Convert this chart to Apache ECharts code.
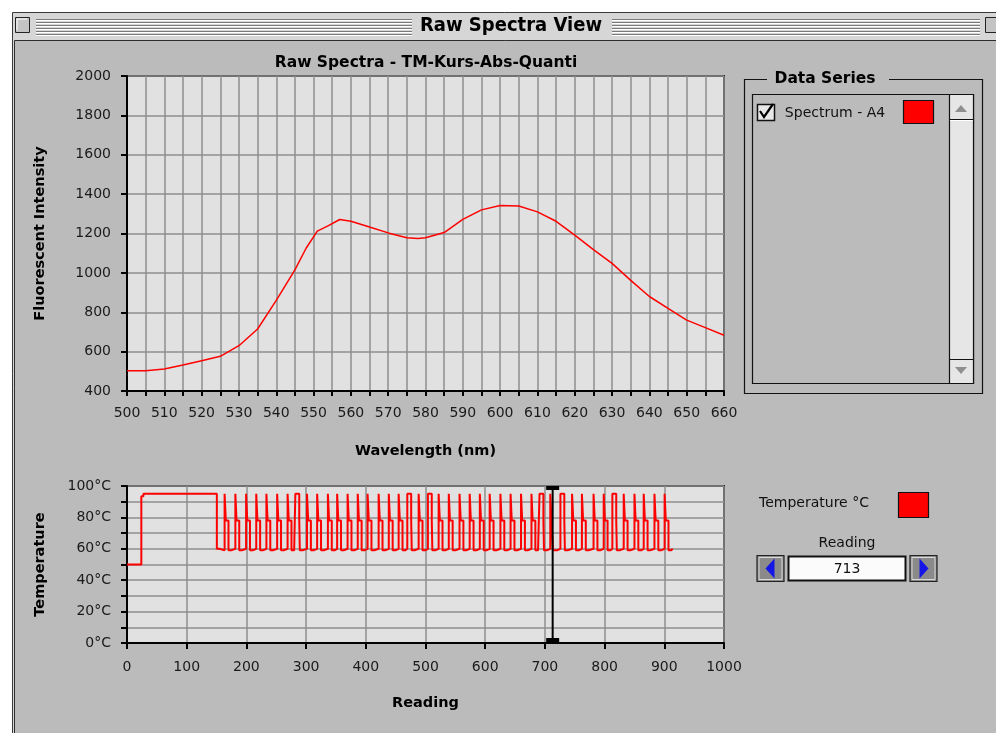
<!DOCTYPE html>
<html>
<head>
<meta charset="utf-8">
<title>Raw Spectra View</title>
<script src="https://cdn.jsdelivr.net/npm/echarts/dist/echarts.min.js"></script>
<style>
  html, body { margin: 0; padding: 0; background: #ffffff; }
  #chart { width: 996px; height: 733px; }
</style>
</head>
<body>
<div id="chart"></div>
<script>
// Raw spectrum of well A4: wavelength (nm) and fluorescent intensity
const wavelengths = [500, 505, 510, 515, 520, 525, 530, 535, 540, 545, 548, 551, 554, 557, 560,
  565, 570, 575, 578, 580, 585, 590, 595, 600, 605, 610, 615, 620, 625, 630, 635, 640, 645, 650, 655, 660];
const intensity = [503, 503, 512, 532, 554, 576, 630, 715, 860, 1015, 1125, 1212, 1240, 1271, 1262,
  1233, 1203, 1178, 1174, 1178, 1205, 1272, 1320, 1342, 1340, 1310, 1262, 1192, 1118, 1048, 962, 880, 820, 760, 722, 683];

// Block temperature log: [reading, °C] break points, each value held until the next reading
const temperatureSteps = [
  [0, 50], [24, 93.5], [27.5, 95], [66, 94], [67.5, 95], [79.5, 94], [81, 95], [116.5, 94], [118, 95],
  [136.5, 94], [138, 95], [150.5, 60], [155, 59],
  [163.5, 95], [165.5, 78], [170, 59], [174.5, 60],
  [181.5, 95], [183.5, 78], [188, 59], [192.5, 60],
  [199.5, 95], [201.5, 78], [206, 59], [210.5, 60],
  [216.5, 95], [218.5, 78], [223, 59], [227.5, 60],
  [233.5, 95], [235.5, 78], [240, 59], [244.5, 60],
  [251.5, 95], [253.5, 78], [258, 59], [262.5, 60],
  [269, 95], [271, 78], [275.5, 59], [280, 60],
  [282, 95], [288.5, 78], [289.5, 59], [294, 60],
  [301.5, 95], [303.5, 78], [308, 59], [312.5, 60],
  [318.5, 95], [320.5, 78], [325, 59], [329.5, 60],
  [336.5, 95], [338.5, 78], [343, 59], [347.5, 60],
  [352, 95], [354, 78], [358.5, 59], [363, 60],
  [369.5, 95], [371.5, 78], [376, 59], [380.5, 60],
  [386.5, 95], [388.5, 78], [393, 59], [397.5, 60],
  [403, 95], [405, 78], [409.5, 59], [414, 60],
  [421.5, 95], [423.5, 78], [428, 59], [432.5, 60],
  [438.5, 95], [440.5, 78], [445, 59], [449.5, 60],
  [455, 95], [457, 78], [461.5, 59], [466, 60],
  [469.5, 95], [476, 78], [477, 59], [481.5, 60],
  [488.5, 95], [490.5, 78], [495, 59], [499.5, 60],
  [504, 95], [510.5, 78], [511.5, 59], [516, 60],
  [522, 95], [524, 78], [528.5, 59], [533, 60],
  [539, 95], [541, 78], [545.5, 59], [550, 60],
  [557, 95], [559, 78], [563.5, 59], [568, 60],
  [574, 95], [576, 78], [580.5, 59], [585, 60],
  [591, 95], [593, 78], [597.5, 59], [602, 60],
  [607.5, 95], [609.5, 78], [614, 59], [618.5, 60],
  [625.5, 95], [627.5, 78], [632, 59], [636.5, 60],
  [642.5, 95], [644.5, 78], [649, 59], [653.5, 60],
  [660, 95], [662, 78], [666.5, 59], [671, 60],
  [677.5, 95], [679.5, 78], [684, 59], [688.5, 60],
  [691, 95], [697.5, 78], [698.5, 59], [703, 60],
  [709, 95], [711, 78], [713.5, 59], [720, 60],
  [726, 95], [732.5, 78], [733.5, 59], [738, 60],
  [745.5, 95], [747.5, 78], [752, 59], [756.5, 60],
  [762, 95], [764, 78], [768.5, 59], [773, 60],
  [781.5, 95], [783.5, 78], [788, 59], [792.5, 60],
  [798.5, 95], [800.5, 78], [805, 59], [809.5, 60],
  [813, 95], [819.5, 78], [820.5, 59], [825, 60],
  [832, 95], [834, 78], [838.5, 59], [843, 60],
  [850, 95], [852, 78], [856.5, 59], [861, 60],
  [865.5, 95], [867.5, 78], [872, 59], [876.5, 60],
  [883.5, 95], [885.5, 78], [890, 59], [894.5, 60],
  [900.5, 95], [902.5, 78], [907, 59], [911.5, 60],
  [914, 60]
];

// Reading currently selected with the cursor
const currentReading = 713;

const seriesName = 'Spectrum - A4';
const tempName = 'Temperature °C';

const SANS = "'DejaVu Sans', Verdana, sans-serif";
const RED = '#ff0000';
const GRID_LINE = { color: '#8e8e8e', width: 1.5 };
const AXIS_LINE = { color: '#000000', width: 2 };

const chart = echarts.init(document.getElementById('chart'), null, { renderer: 'canvas' });

function txt(text, x, y, font, opts) {
  return {
    type: 'text', z: 20,
    style: Object.assign({
      text: text, x: x, y: y, font: font, fill: '#111',
      textAlign: 'center', textVerticalAlign: 'middle', align: 'center', verticalAlign: 'middle'
    }, opts || {})
  };
}
function rect(x, y, w, h, fill, stroke, lw, z) {
  return { type: 'rect', z: z === undefined ? 10 : z, shape: { x: x, y: y, width: w, height: h },
    style: { fill: fill, stroke: stroke || null, lineWidth: lw || 1 } };
}
function line(x1, y1, x2, y2, color, lw, z) {
  return { type: 'line', z: z === undefined ? 10 : z, shape: { x1: x1, y1: y1, x2: x2, y2: y2 },
    style: { stroke: color, lineWidth: lw || 1 } };
}
function poly(points, fill, z) {
  return { type: 'polygon', z: z === undefined ? 11 : z, shape: { points: points }, style: { fill: fill } };
}

// Window chrome: frame, striped title bar, close/zoom boxes, content panel
const chrome = [];
chrome.push(rect(12.5, 12.5, 1000, 740, '#d6d6d6', '#3a3a3a', 1, -20));
for (let i = 0; i < 6; i++) {
  const y = 19.5 + i * 3;
  chrome.push(line(36, y, 412, y, '#7a7a7a', 1, -19));
  chrome.push(line(36, y + 1, 412, y + 1, '#ffffff', 1, -19));
  chrome.push(line(612, y, 980, y, '#7a7a7a', 1, -19));
  chrome.push(line(612, y + 1, 980, y + 1, '#ffffff', 1, -19));
}
chrome.push(rect(15.5, 17.5, 14, 15, '#c4c4c4', '#222', 1, -19));
chrome.push(line(17, 19, 27, 19, '#ffffff', 1, -18));
chrome.push(line(17, 19, 17, 30, '#ffffff', 1, -18));
chrome.push(rect(985.5, 17.5, 16, 15, '#c4c4c4', '#222', 1, -19));
chrome.push(txt('Raw Spectra View', 511, 26,
  "bold 20px 'DejaVu Sans Condensed', 'Liberation Sans Narrow', 'DejaVu Sans', sans-serif",
  { fill: '#000', z: -18 }));
chrome.push(rect(14.5, 40.5, 995, 710, '#bbbbbb', '#2e2e2e', 1, -17));

// Data Series group box
const panel = [];
panel.push(rect(744.5, 79.5, 238, 314, null, '#111', 1.2, 10));
panel.push(rect(767, 70, 122, 18, '#bbbbbb', null, 1, 11));
panel.push(txt('Data Series', 825, 79, "bold 15.5px 'DejaVu Sans', sans-serif", { fill: '#000' }));
panel.push(rect(752.5, 94.5, 221, 289, '#bbbbbb', '#111', 1.2, 11));
panel.push(rect(949.5, 94.5, 24, 289, '#e6e6e6', '#111', 1.2, 12));
panel.push(line(950, 119.5, 973, 119.5, '#111', 1, 13));
panel.push(line(950, 120.5, 973, 120.5, '#ffffff', 1, 13));
panel.push(line(950, 359.5, 973, 359.5, '#111', 1, 13));
panel.push(poly([[955, 112], [967, 112], [961, 105]], '#8f8f8f', 14));
panel.push(poly([[955, 367], [967, 367], [961, 374]], '#8f8f8f', 14));
// checkbox with tick
panel.push(rect(757.5, 104.5, 17, 16, '#e8e8e8', '#111', 1.5, 13));
panel.push({ type: 'polyline', z: 14, shape: { points: [[760, 111], [764, 117], [773, 104]] },
  style: { stroke: '#000', lineWidth: 2.2, fill: null } });
panel.push(txt(seriesName, 835, 113, "14px " + SANS, { fill: '#111' }));
panel.push(rect(903.5, 100.5, 30, 23, RED, '#111', 1.2, 13));

// Temperature legend and reading selector
panel.push(txt(tempName, 814, 503, "14px " + SANS, { fill: '#111' }));
panel.push(rect(898.5, 492.5, 30, 25, RED, '#111', 1.2, 13));
panel.push(txt('Reading', 847, 543, "14px " + SANS, { fill: '#111' }));
function button(x, pointLeft) {
  const els = [];
  els.push(rect(x + 0.5, 555.5, 27, 26, '#8a8a8a', '#222', 1.2, 13));
  els.push(rect(x + 2.5, 557.5, 23, 22, null, '#d8d8d8', 1, 14));
  const cx = x + 14;
  const pts = pointLeft
    ? [[cx + 4, 558.5], [cx + 4, 578.5], [cx - 5, 568.5]]
    : [[cx - 4, 558.5], [cx - 4, 578.5], [cx + 5, 568.5]];
  els.push(poly(pts, '#1515e6', 15));
  return els;
}
panel.push(...button(756.5, true));
panel.push(...button(909.5, false));
panel.push(rect(788.5, 556.5, 117, 24, '#fbfbfb', '#111', 2, 13));
panel.push(txt(String(currentReading), 847, 569, "14px " + SANS, { fill: '#111' }));

// Plot heading
panel.push(txt('Raw Spectra - TM-Kurs-Abs-Quanti', 426, 63, "bold 15.5px 'DejaVu Sans', sans-serif", { fill: '#000' }));

const plain = v => String(v);
const labelStyle = { fontFamily: SANS, fontSize: 14, color: '#1a1a1a' };
const nameStyle = { fontFamily: "'DejaVu Sans', sans-serif", fontWeight: 'bold', fontSize: 14.5, color: '#000' };

const option = {
  animation: false,
  backgroundColor: '#ffffff',
  graphic: { elements: chrome.concat(panel) },
  grid: [
    { left: 127, top: 76, width: 597, height: 315, show: true, backgroundColor: '#e1e1e1',
      borderColor: '#1c1c1c', borderWidth: 2 },
    { left: 127, top: 486, width: 597, height: 157, show: true, backgroundColor: '#e1e1e1',
      borderColor: '#1c1c1c', borderWidth: 2 }
  ],
  xAxis: [
    { type: 'value', gridIndex: 0, min: 500, max: 660, interval: 10,
      axisLine: { lineStyle: AXIS_LINE }, axisTick: { length: 5, lineStyle: AXIS_LINE },
      minorTick: { show: true, splitNumber: 2, length: 5, lineStyle: AXIS_LINE },
      splitLine: { lineStyle: GRID_LINE }, minorSplitLine: { show: true, lineStyle: GRID_LINE },
      axisLabel: Object.assign({ margin: 15, formatter: plain }, labelStyle),
      name: 'Wavelength (nm)', nameLocation: 'middle', nameGap: 53, nameTextStyle: nameStyle },
    { type: 'value', gridIndex: 1, min: 0, max: 1000, interval: 100,
      axisLine: { lineStyle: AXIS_LINE }, axisTick: { length: 6, lineStyle: AXIS_LINE },
      splitLine: { lineStyle: GRID_LINE },
      axisLabel: Object.assign({ margin: 17, formatter: plain }, labelStyle),
      name: 'Reading', nameLocation: 'middle', nameGap: 53, nameTextStyle: nameStyle }
  ],
  yAxis: [
    { type: 'value', gridIndex: 0, min: 400, max: 2000, interval: 200,
      axisLine: { show: true, lineStyle: AXIS_LINE }, axisTick: { show: true, length: 6, lineStyle: AXIS_LINE },
      splitLine: { lineStyle: GRID_LINE },
      axisLabel: Object.assign({ margin: 16, formatter: plain }, labelStyle),
      name: 'Fluorescent Intensity', nameLocation: 'middle', nameGap: 79, nameTextStyle: nameStyle },
    { type: 'value', gridIndex: 1, min: 0, max: 100, interval: 20,
      axisLine: { show: true, lineStyle: AXIS_LINE }, axisTick: { show: true, length: 6, lineStyle: AXIS_LINE },
      minorTick: { show: true, splitNumber: 2, length: 6, lineStyle: AXIS_LINE },
      splitLine: { lineStyle: GRID_LINE }, minorSplitLine: { show: true, lineStyle: GRID_LINE },
      axisLabel: Object.assign({ margin: 16, formatter: '{value}°C' }, labelStyle),
      name: 'Temperature', nameLocation: 'middle', nameGap: 79, nameTextStyle: nameStyle }
  ],
  series: [
    { name: seriesName, type: 'line', xAxisIndex: 0, yAxisIndex: 0,
      data: wavelengths.map((w, i) => [w, intensity[i]]),
      showSymbol: false, symbol: 'none', lineStyle: { color: RED, width: 1.5 }, itemStyle: { color: RED } },
    { name: tempName, type: 'line', xAxisIndex: 1, yAxisIndex: 1, step: 'end',
      data: temperatureSteps, showSymbol: false, symbol: 'none',
      lineStyle: { color: RED, width: 2 }, itemStyle: { color: RED } },
    { name: 'cursor', type: 'line', xAxisIndex: 1, yAxisIndex: 1, z: 5,
      data: [
        { value: [currentReading, 100], symbolOffset: [0, 2] },
        { value: [currentReading, 0], symbolOffset: [0, -3] }
      ],
      symbol: 'rect', symbolSize: [13, 4], showSymbol: true,
      lineStyle: { color: '#000', width: 2 }, itemStyle: { color: '#000' } }
  ]
};

chart.setOption(option);
</script>
</body>
</html>
